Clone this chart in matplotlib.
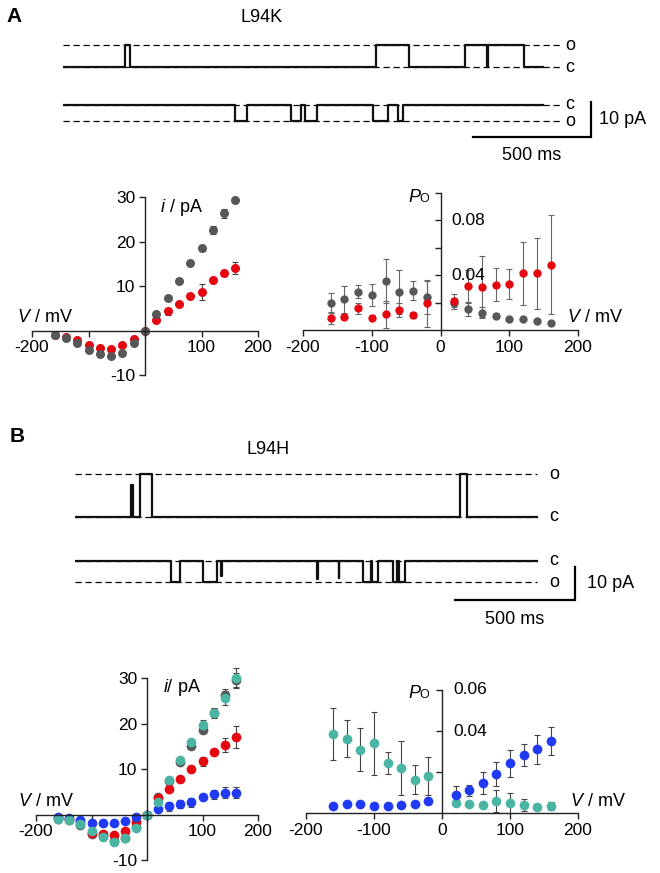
import numpy as np
import matplotlib.pyplot as plt

plt.rcParams['font.family'] = ['Liberation Sans', 'DejaVu Sans']
plt.rcParams['mathtext.fontset'] = 'custom'
plt.rcParams['mathtext.it'] = 'Liberation Sans:italic'
plt.rcParams['mathtext.rm'] = 'Liberation Sans'

W, H = 660, 873

# voltages (mV)
v_iv = [-160, -140, -120, -100, -80, -60, -40, -20, 0, 20, 40, 60, 80, 100, 120, 140, 160]
v_po = [-160, -140, -120, -100, -80, -60, -40, -20, 20, 40, 60, 80, 100, 120, 140, 160]

# A: L94K, single channel current (pA)
k_iv_gray = [-1.1, -1.6, -2.8, -4.3, -5.2, -5.7, -5.0, -2.8, 0, 3.6, 7.3, 11.2, 15.1, 18.5, 22.5, 26.3, 29.3]
k_iv_gray_err = [0.2, 0.2, 0.2, 0.2, 0.2, 0.2, 0.2, 0.2, 0, 0.2, 0.2, 0.2, 0.2, 0.6, 0.9, 1.1, 0.3]
k_iv_red = [-0.9, -1.5, -2.2, -3.2, -4.0, -4.1, -3.2, -1.9, 0, 2.4, 4.3, 6.0, 7.8, 8.6, 11.3, 12.9, 14.0]
k_iv_red_err = [0.2, 0.2, 0.2, 0.2, 0.2, 0.2, 0.2, 0.2, 0, 0.2, 0.8, 0.3, 0.4, 1.8, 0.6, 0.6, 1.3]

# A: L94K, open probability
k_po_gray = [0.020, 0.0224, 0.028, 0.0256, 0.036, 0.028, 0.0288, 0.024,
             0.0195, 0.0154, 0.0127, 0.0105, 0.008, 0.008, 0.0068, 0.005]
k_po_gray_err = [0.007, 0.010, 0.005, 0.008, 0.016, 0.016, 0.007, 0.012,
                 0.004, 0.005, 0.004, 0.002, 0.001, 0.001, 0.001, 0.001]
k_po_red = [0.0085, 0.0098, 0.0159, 0.009, 0.0115, 0.0146, 0.011, 0.0195,
            0.0215, 0.032, 0.0317, 0.033, 0.0337, 0.0415, 0.0415, 0.0476]
k_po_red_err = [0.004, 0.002, 0.004, 0.002, 0.010, 0.005, 0.002, 0.017,
                0.005, 0.012, 0.022, 0.012, 0.011, 0.023, 0.026, 0.036]

# B: L94H, single channel current (pA)
h_iv_gray = [-0.9, -1.2, -2.2, -4.2, -4.8, -5.9, -5.2, -2.8, 0, 3.9, 7.3, 11.6, 15.1, 18.5, 22.3, 26.3, 29.6]
h_iv_gray_err = [0.2, 0.2, 0.2, 0.2, 0.2, 0.2, 0.2, 0.2, 0, 0.2, 0.2, 0.3, 0.3, 0.6, 0.8, 1.2, 1.5]
h_iv_red = [-0.7, -1.0, -1.6, -4.1, -4.2, -4.4, -3.7, -1.7, 0, 3.7, 5.6, 7.7, 10.0, 11.7, 13.7, 15.3, 17.0]
h_iv_red_err = [0.2, 0.2, 0.2, 0.2, 0.2, 0.2, 0.2, 0.2, 0, 0.2, 0.3, 0.4, 0.3, 1.0, 0.7, 1.6, 2.4]
h_iv_blue = [-0.6, -0.8, -1.3, -1.9, -1.9, -1.9, -1.5, -0.6, 0, 1.1, 1.8, 2.3, 2.7, 3.8, 4.4, 4.8, 4.8]
h_iv_blue_err = [0.2, 0.2, 0.2, 0.2, 0.2, 0.2, 0.2, 0.2, 0, 0.3, 1.0, 0.8, 1.0, 0.6, 1.0, 1.2, 1.2]
h_iv_teal = [-0.9, -1.2, -2.1, -3.7, -5.0, -6.0, -5.1, -3.0, 0, 2.7, 7.5, 11.9, 15.9, 19.6, 22.3, 25.6, 30.0]
h_iv_teal_err = [0.2, 0.2, 0.2, 0.2, 0.2, 0.2, 0.2, 0.2, 0, 0.2, 0.2, 0.3, 0.3, 1.2, 1.0, 1.5, 2.3]

# B: L94H, open probability
h_po_teal = [0.0387, 0.0362, 0.0309, 0.034, 0.0243, 0.022, 0.0163, 0.018,
             0.0049, 0.0044, 0.0038, 0.0057, 0.005, 0.0038, 0.0028, 0.0034]
h_po_teal_err = [0.0127, 0.009, 0.0106, 0.0155, 0.0055, 0.013, 0.007, 0.0094,
                 0.0005, 0.0005, 0.0005, 0.0053, 0.005, 0.003, 0.0005, 0.002]
h_po_blue = [0.0033, 0.0044, 0.0044, 0.0036, 0.0036, 0.0038, 0.0046, 0.0057,
             0.0087, 0.011, 0.0147, 0.019, 0.0242, 0.0284, 0.031, 0.0351]
h_po_blue_err = [0.0015, 0.0005, 0.0015, 0.0005, 0.0005, 0.0005, 0.0005, 0.0005,
                 0.0045, 0.0025, 0.0055, 0.0059, 0.0064, 0.0053, 0.007, 0.0068]

# single channel traces: (start ms, end ms, fraction of full opening)
k_trace1 = [(263, 284, 1.0), (1326, 1466, 1.0), (1703, 1797, 1.0), (1801, 1953, 1.0)]
k_trace2 = [(729, 780, 1.0), (966, 1008, 1.0), (1025, 1076, 1.0), (1314, 1377, 1.0), (1419, 1441, 1.0)]
h_trace1 = [(235, 240, 0.75), (271, 321, 1.0), (1604, 1633, 1.0)]
h_trace2 = [(400, 437, 1.0), (533, 592, 1.0), (610, 614, 0.7), (1010, 1014, 0.84),
            (1098, 1102, 0.8), (1200, 1233, 1.0), (1237, 1262, 1.0), (1325, 1342, 1.0), (1350, 1375, 1.0)]

GRAY = '#575757'
RED = '#e5060f'
BLUE = '#1f3af2'
TEAL = '#4bb5a3'

fig = plt.figure(figsize=(W / 100, H / 100), dpi=100)


def px_axes(x0, y0, x1, y1):
    return fig.add_axes([x0 / W, 1 - y1 / H, (x1 - x0) / W, (y1 - y0) / H])


def ftext(x, y, s, **kw):
    fig.text(x / W, 1 - y / H, s, **kw)


def step_trace(events, t_end, closed, opened):
    t = [0.0]
    y = [closed]
    for a, b, frac in events:
        lvl = closed + frac * (opened - closed)
        t += [a, a, b, b]
        y += [closed, lvl, lvl, closed]
    t.append(t_end)
    y.append(closed)
    return t, y


def trace_panel(ax, tr1, tr2, levels, t_end, dash_end, lab_x, bar):
    c1, o1, c2, o2 = levels
    ax.axis('off')
    for lv in levels:
        ax.plot([0, dash_end], [lv, lv], color='black', lw=0.9, dashes=(5, 3))
    t, y = step_trace(tr1, t_end, c1, o1)
    ax.plot(t, y, color='#111111', lw=1.6)
    t, y = step_trace(tr2, t_end, c2, o2)
    ax.plot(t, y, color='#111111', lw=1.6)
    for lv, s in zip(levels, ['c', 'o', 'c', 'o']):
        ax.text(lab_x, lv, s, ha='center', va='center', fontsize=13)
    bx, by, tx, ty = bar
    ax.plot([bx - 500, bx, bx], [by, by, by + 10], color='black', lw=1.6,
            solid_joinstyle='miter')
    ax.text(bx + tx, by + 5, '10 pA', ha='left', va='center', fontsize=13)
    ax.text(bx - 250, by + ty, '500 ms', ha='center', va='center', fontsize=13)


def setup_cross(ax, ylim, yticks, xlabels, ylabels):
    ax.set_xlim(-200, 200)
    ax.set_ylim(*ylim)
    ax.patch.set_visible(False)
    for s in ['top', 'right']:
        ax.spines[s].set_visible(False)
    ax.spines['left'].set_position(('data', 0))
    ax.spines['bottom'].set_position(('data', 0))
    for s in ['left', 'bottom']:
        ax.spines[s].set_linewidth(1.0)
        ax.spines[s].set_color('#222222')
    ax.set_xticks([-200, -100, 0, 100, 200])
    ax.set_xticklabels(xlabels)
    ax.set_yticks(yticks)
    ax.set_yticklabels(ylabels)
    ax.tick_params(direction='out', length=4, width=1, labelsize=12.5, pad=3,
                   color='#222222')


def errpts(ax, v, y, err, color, ms=6.5, ecolor='#444444'):
    cont = ax.errorbar(v, y, yerr=err, fmt='o', color=color, ms=ms, mec='none',
                       ecolor=ecolor, elinewidth=0.8, capsize=2.5, capthick=0.8)
    for art in cont.lines[0:1] + tuple(cont.lines[1]) + tuple(cont.lines[2]):
        art.set_clip_on(False)


def po_label(x, y):
    ftext(x, y, 'P', style='italic', fontsize=13, va='center')
    ftext(x + 11.5, y + 1.5, 'O', fontsize=9, va='center')


# ---------------- A ----------------
ftext(6, 17, 'A', fontsize=15, fontweight='bold', va='center')
ftext(262, 17, 'L94K', fontsize=13, ha='center', va='center')

ax = px_axes(63, 30, 653, 170)
ax.set_xlim(0, 2500)
ax.set_ylim(-29.3, 10.7)
trace_panel(ax, k_trace1, k_trace2, [0, 6.3, -10.7, -15.4], 2034, 2106, 2148,
            (2237, -19.9, 34, -5.4))

ax = px_axes(32, 197, 258, 375)
setup_cross(ax, (-10, 30), [-10, 0, 10, 20, 30], ['-200', '', '', '100', '200'],
            ['-10', '', '10', '20', '30'])
errpts(ax, v_iv, k_iv_red, k_iv_red_err, RED)
errpts(ax, v_iv, k_iv_gray, k_iv_gray_err, GRAY)
ftext(160, 207, '$i$ / pA', fontsize=13, va='center')
ftext(17, 317, '$V$ / mV', fontsize=13, va='center')

ax = px_axes(303, 193, 578, 330)
setup_cross(ax, (0, 0.1), [0.02, 0.04, 0.06, 0.08, 0.1],
            ['-200', '-100', '0', '100', '200'], ['', '', '', '', ''])
errpts(ax, v_po, k_po_gray, k_po_gray_err, GRAY, ms=6, ecolor='#666666')
errpts(ax, v_po, k_po_red, k_po_red_err, RED, ms=6, ecolor='#666666')
for val in [0.04, 0.08]:
    ax.text(16, val, f'{val:.2f}', ha='left', va='center', fontsize=12.5)
po_label(408, 197)
ftext(567, 317, '$V$ / mV', fontsize=13, va='center')

# ---------------- B ----------------
ftext(10, 436, 'B', fontsize=15, fontweight='bold', va='center')
ftext(268, 450, 'L94H', fontsize=13, ha='center', va='center')

ax = px_axes(75, 460, 651, 635)
ax.set_xlim(0, 2400)
ax.set_ylim(-35.76, 17.27)
trace_panel(ax, h_trace1, h_trace2, [0, 13.0, -13.3, -19.7], 1925, 1925, 1996,
            (2083, -25.2, 50, -6.0))

ax = px_axes(36, 678, 258, 860)
setup_cross(ax, (-10, 30), [-10, 0, 10, 20, 30], ['-200', '', '', '100', '200'],
            ['-10', '', '10', '20', '30'])
errpts(ax, v_iv, h_iv_gray, h_iv_gray_err, GRAY, ms=7)
errpts(ax, v_iv, h_iv_red, h_iv_red_err, RED, ms=7)
errpts(ax, v_iv, h_iv_blue, h_iv_blue_err, BLUE, ms=7)
errpts(ax, v_iv, h_iv_teal, h_iv_teal_err, TEAL, ms=7)
ftext(163, 687, '$i$/ pA', fontsize=13, va='center')
ftext(18, 802, '$V$ / mV', fontsize=13, va='center')

ax = px_axes(306, 690, 578, 813)
setup_cross(ax, (0, 0.06), [0.02, 0.04, 0.06],
            ['-200', '-100', '0', '100', '200'], ['', '', ''])
errpts(ax, v_po, h_po_teal, h_po_teal_err, TEAL, ms=7)
errpts(ax, v_po, h_po_blue, h_po_blue_err, BLUE, ms=7)
for val in [0.04, 0.06]:
    ax.text(16, val, f'{val:.2f}', ha='left', va='center', fontsize=12.5)
po_label(408, 693)
ftext(570, 802, '$V$ / mV', fontsize=13, va='center')

fig.savefig('out.png', dpi=100)
